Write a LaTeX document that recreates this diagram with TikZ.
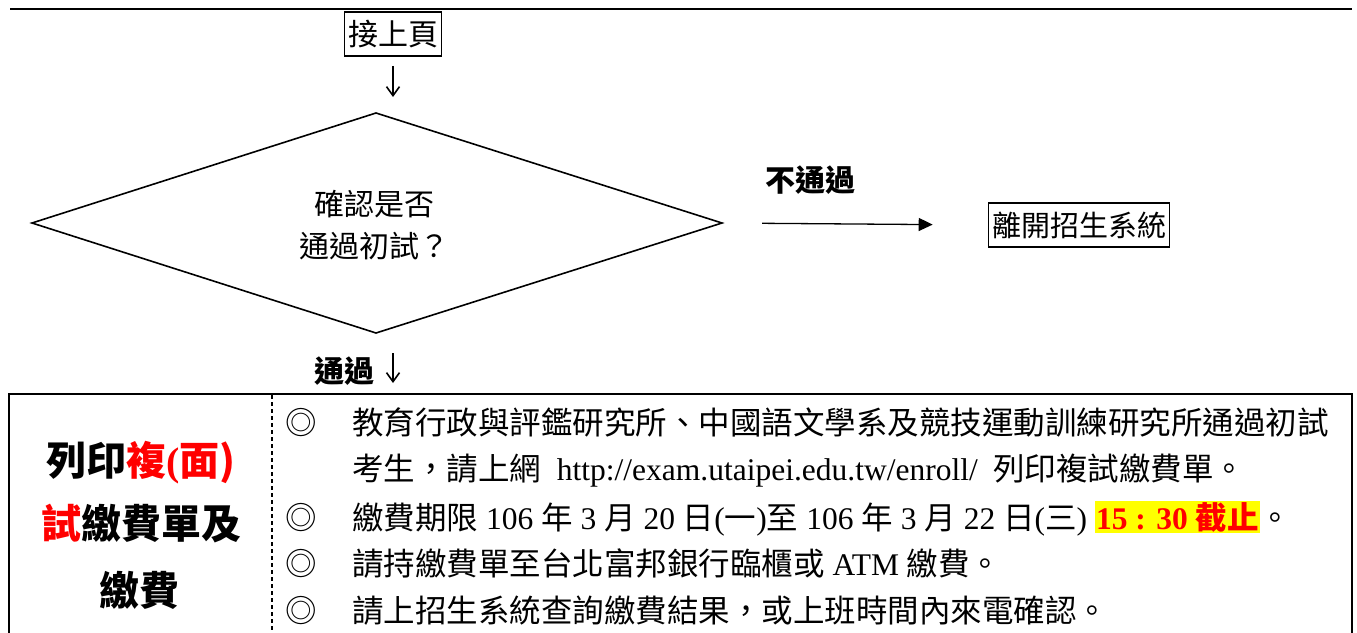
\documentclass[tikz,border=0pt]{standalone}
\usepackage{fontspec}
\usepackage{xcolor}
\setmainfont{Liberation Serif}
\newfontfamily\cjk{Noto Sans CJK TC}
\usetikzlibrary{arrows.meta}
\newcommand\setfs[1]{\fontsize{#1}{#1}\selectfont}
\definecolor{hlyellow}{RGB}{255,255,0}
\definecolor{hlred}{RGB}{255,0,0}
\begin{document}
\begin{tikzpicture}[x=1pt,y=-1pt,
  frame/.style={draw,line width=1.6pt,inner sep=0pt,font=\cjk\setfs{30}},
  dnarr/.style={line width=1.6pt,-{Straight Barb[length=9pt,width=13pt]}},
  rarr/.style={line width=1.3pt,-{Triangle[length=14pt,width=13pt]}},
  lbl/.style={inner sep=0pt,font=\cjk\bfseries\setfs{30}},
  lft/.style={inner sep=0pt,anchor=base,font=\bfseries\setfs{40}},
  bulletn/.style={inner sep=0pt,anchor=base,font=\cjk\setfs{31.5}},
  body/.style={inner sep=0pt,anchor=base west,font=\setfs{31.5}},
]
\clip (0,0) rectangle (1357,632);
\fill[white] (0,0) rectangle (1357,632);

% top rule
\draw[line width=2.5pt] (10,9) -- (1352,9);

% continuation box
\node[frame,minimum width=97pt,minimum height=44pt] (jie) at (393,34) {接上頁};

% decision diamond
\coordinate (dl) at (32,223);
\coordinate (dt) at (376,113);
\coordinate (dr) at (722,223);
\coordinate (db) at (376,333);
\draw[line width=1.6pt,line join=miter] (dl) -- (dt) -- (dr) -- (db) -- cycle;
\node[inner sep=0pt,align=center,font=\cjk\fontsize{30}{42}\selectfont] (dia) at (374,225) {確認是否\\通過初試？};

% exit box
\node[frame,font=\cjk\setfs{29},minimum width=181pt,minimum height=44pt] (exit) at (1079,225) {離開招生系統};

% labels
\node[lbl] (fail) at (810,180) {不通過};
\node[lbl] (pass) at (344,371) {通過};

% bottom box
\coordinate (bt) at (393,394);
\draw[line width=2.2pt] (9,650) -- (9,394) -- (1352,394) -- (1352,650);
\draw[line width=1.5pt,dash pattern=on 4pt off 3pt] (272,395) -- (272,650);

% connectors
\draw[dnarr,shorten <=9pt,shorten >=16pt] (jie.south) -- (jie.south |- dt);
\draw[rarr,shorten <=40pt,shorten >=55pt] (dr) -- (exit.west);
\draw[dnarr,shorten <=20pt,shorten >=11pt] (bt |- db) -- (bt);

% left column
\node[lft] (l1) at (141,475) {{\cjk 列印}\textcolor{hlred}{{\cjk 複}(\cjk 面)}};
\node[lft] (l2) at (141,538) {\textcolor{hlred}{\cjk 試}{\cjk 繳費單及}};
\node[lft] (l3) at (139,605) {\cjk 繳費};

% right column
\node[bulletn] (b1) at (301,434) {◎};
\node[bulletn] (b3) at (301,529) {◎};
\node[bulletn] (b4) at (301,575) {◎};
\node[bulletn] (b5) at (301,622) {◎};

\node[body] (t1) at (352,434) {\cjk 教育行政與評鑑研究所、中國語文學系及競技運動訓練研究所通過初試};
\node[body] (t2) at (352,480) {{\cjk 考生，請上網}\hspace{0.5em}http://exam.utaipei.edu.tw/enroll/\hspace{0.5em}{\cjk 列印複試繳費單。}};
\setlength{\fboxsep}{1pt}
\node[body] (t3) at (352,529) {{\cjk 繳費期限} 106 {\cjk 年} 3 {\cjk 月} 20 {\cjk 日}({\cjk 一}){\cjk 至} 106 {\cjk 年} 3 {\cjk 月} 22 {\cjk 日}({\cjk 三}) \colorbox{hlyellow}{\textcolor{hlred}{\bfseries 15 : 30 {\cjk 截止}}}{\cjk 。}};
\node[body] (t4) at (352,575) {{\cjk 請持繳費單至台北富邦銀行臨櫃或} ATM {\cjk 繳費。}};
\node[body] (t5) at (352,622) {\cjk 請上招生系統查詢繳費結果，或上班時間內來電確認。};
\end{tikzpicture}
\end{document}
